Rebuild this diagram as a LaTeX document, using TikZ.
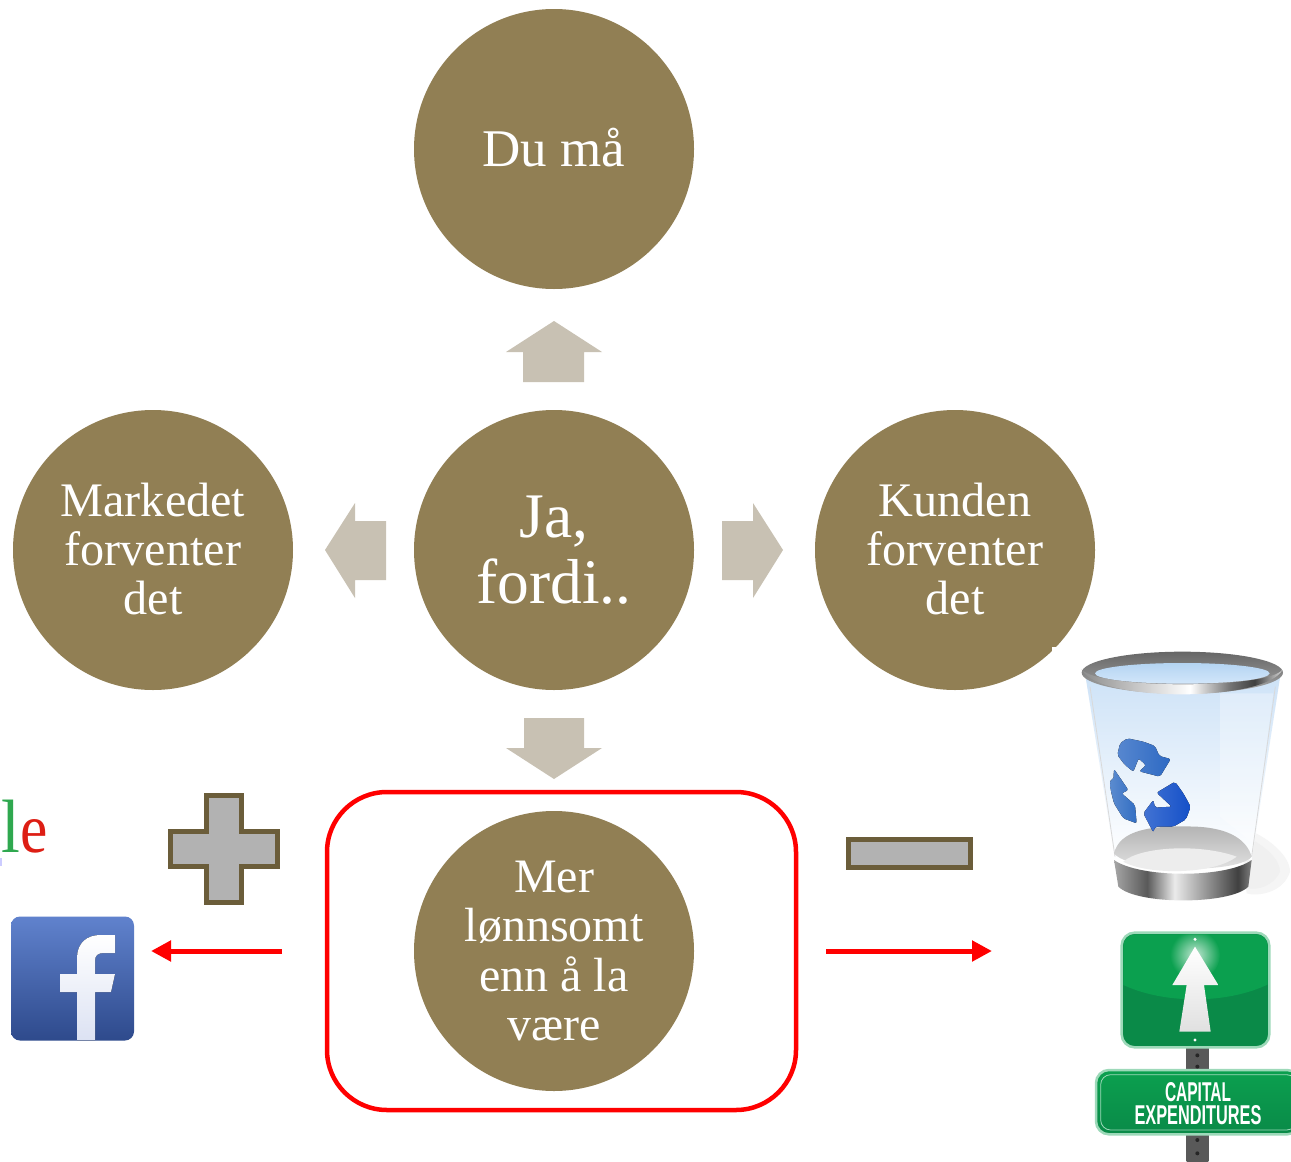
\documentclass[tikz,border=0pt]{standalone}
\usepackage{fontspec}
\setmainfont{Liberation Serif}
\newfontfamily\signfont{Liberation Sans}
\usetikzlibrary{arrows.meta}
\definecolor{olive}{HTML}{917F54}
\definecolor{blockarrow}{HTML}{C8C1B3}
\definecolor{symedge}{HTML}{6B5D3A}
\definecolor{symfill}{HTML}{B2B2B2}
\definecolor{signgreen}{HTML}{0BA04F}
\definecolor{signdark}{HTML}{0A8A48}
\definecolor{fbtop}{HTML}{6082CD}
\definecolor{fbbot}{HTML}{2E4A8C}
\definecolor{fbf}{HTML}{DCE2F3}
\definecolor{recA}{HTML}{2D69C3}
\definecolor{recB}{HTML}{326EC3}
\definecolor{recC}{HTML}{1450C8}
\definecolor{binA}{HTML}{CDE2F7}
\definecolor{rimA}{HTML}{B4D4F2}
\definecolor{rimB}{HTML}{D2E6FA}
\pgfdeclarehorizontalshading{rimband}{100bp}{color(0bp)=(black!45);color(25bp)=(black!45);color(40bp)=(black!20);color(52bp)=(white);color(62bp)=(black!55);color(68bp)=(black!75);color(75bp)=(black!15);color(100bp)=(black!15)}
\pgfdeclarehorizontalshading{baseband}{100bp}{color(0bp)=(black!35);color(25bp)=(black!35);color(37bp)=(black!65);color(47bp)=(black!8);color(58bp)=(black!40);color(70bp)=(black!75);color(75bp)=(black!50);color(100bp)=(black!50)}
\newcommand{\liftline}[1]{\raisebox{2.5pt}{#1}}
\tikzset{
  x=1pt,y=-1pt,
  bubble/.style={circle,fill=olive,minimum size=280pt,inner sep=0pt,align=center,text=white},
  bubbletext/.style={font=\fontsize{48.2}{49.4}\selectfont},
  blockar/.style={fill=blockarrow},
  symbol/.style={draw=symedge,line width=5pt,fill=symfill,miter limit=10},
  redarrow/.style={draw=red,line width=5pt,-{Triangle[length=20pt,width=20pt]}},
  recycle/.style={left color=#1!80!white,right color=#1},
  signplate/.style={rounded corners=13pt,draw=white!60!signgreen,line width=2.5pt,fill=signdark},
  captext/.style={inner sep=0pt,text=white,font=\signfont\bfseries\fontsize{16}{16}\selectfont},
}
\begin{document}
\begin{tikzpicture}
\path[use as bounding box,fill=white] (0,0) rectangle (1291,1162);
\clip (0,0) rectangle (1291,1162);

% bubbles
\node[bubble,font=\fontsize{53}{54}\selectfont] (top) at (554,149) {\raisebox{4pt}{Du må}};
\node[bubble,bubbletext] (left) at (153,550) {\liftline{Markedet}\\\liftline{forventer}\\\liftline{det}};
\node[bubble,font=\fontsize{63.5}{66}\selectfont] (mid) at (554,550) {Ja,\\fordi..};
\node[bubble,bubbletext] (right) at (955,550) {\liftline{Kunden}\\\liftline{forventer}\\\liftline{det}};
\node[bubble,font=\fontsize{48}{49.6}\selectfont] (low) at (554,951) {Mer\\lønnsomt\\enn å la\\være};

% block arrows
\fill[blockar] (554,321)--(602,352)--(584,352)--(584,382)--(523,382)--(523,352)--(506,352)--cycle;
\fill[blockar] (325,550)--(355,503)--(355,521)--(386,521)--(386,580)--(355,580)--(355,598)--cycle;
\fill[blockar] (783,550)--(753,503)--(753,521)--(722,521)--(722,580)--(753,580)--(753,598)--cycle;
\fill[blockar] (554,779)--(602,748)--(584,748)--(584,718)--(524,718)--(524,748)--(506,748)--cycle;

% red frame
\node[draw=red,line width=4.5pt,rounded corners=60pt,minimum width=469pt,minimum height=318pt,inner sep=0pt] (frame) at (561.5,951) {};

% plus and minus
\draw[symbol] (206.5,795.5)--(241.5,795.5)--(241.5,831.5)--(277.5,831.5)--(277.5,866.5)--(241.5,866.5)--(241.5,902.5)--(206.5,902.5)--(206.5,866.5)--(170,866.5)--(170,831.5)--(206.5,831.5)--cycle;
\node[draw=symedge,line width=5pt,fill=symfill,minimum width=122pt,minimum height=28pt,inner sep=0pt] (minus) at (909,853.5) {};

% google fragment
\node[anchor=base west,inner sep=0pt,font=\fontsize{70}{70}\selectfont] (google) at (1.5,852) {\scalebox{.88}[1]{\textcolor[HTML]{2FA84F}{\scalebox{1.1}[1.08]{l}}\textcolor[HTML]{DD1E14}{e}}};
\fill[blue!20!white] (0,858) rectangle (1.5,866);

% facebook
\node[rounded corners=9pt,inner sep=0pt,minimum width=123pt,minimum height=124pt,top color=fbtop,bottom color=fbbot] (fb) at (72.5,978.5) {};
\fill[top color=white,bottom color=fbf]
  (77,1040)--(77,992)--(60,992)--(60,974)--(77,974)--(77,958)
  .. controls (77,943) and (87,935) .. (100,935)--(115,935)--(115,953)--(104,953)
  .. controls (98,953) and (95,955) .. (95,961)--(95,974)--(115,974)--(111,992)--(95,992)--(95,1040)--cycle;

% red arrows
\coordinate (fbend) at (151,951);
\coordinate (binend) at (992,951);
\coordinate (lstart) at (282,951);
\coordinate (rstart) at (826,951);
\draw[redarrow] (lstart)--(fbend);
\draw[redarrow] (rstart)--(binend);

% recycle bin (coordinates of a 3x crop)
\fill[white] (1052,647) rectangle (1110,700);
\begin{scope}[shift={(1040,630)},scale=1/3]
  % ground shadow
  \fill[black!4] (600,590) .. controls (690,620) and (750,680) .. (750,725) .. controls (730,790) and (650,800) .. (620,790)--cycle;
  \fill[black!6] (620,620) .. controls (680,650) and (720,690) .. (720,725) .. controls (700,770) and (650,780) .. (625,775)--cycle;
  % body
  \path[top color=binA,bottom color=white] (135,130)--(225,690)--(635,690)--(722,130)--cycle;
  \path[left color=white,right color=white,opacity=.3] (540,190) -- (700,190) -- (640,640) -- (540,560) -- cycle;
  \draw[black!15,line width=.8pt] (150,170)--(225,680);
  \draw[black!15,line width=.8pt] (706,170)--(635,680);
  % floor
  \path[top color=black!30,bottom color=black!10] (222,670) .. controls (240,600) and (330,585) .. (470,590) .. controls (570,595) and (620,630) .. (635,680) .. controls (600,730) and (270,730) .. (222,670) -- cycle;
  \fill[black!7] (250,695) .. controls (300,650) and (480,640) .. (590,680) .. controls (520,735) and (320,735) .. (250,695) -- cycle;
  % base
  \path[shading=baseband] (222,690) .. controls (300,745) and (560,745) .. (635,690)--(625,770) .. controls (570,825) and (290,825) .. (235,770)--cycle;
  % recycle arrows
  \fill[recycle=recA,rounded corners=2pt] (232,375)--(240,340)--(262,325)--(310,335)--(345,348)--(358,378)--(392,387)--(360,440)--(298,424)--(318,406)--(296,385)--(280,425)--(255,405)--cycle;
  \fill[recycle=recB,rounded corners=2pt] (222,417)--(265,480)--(245,490)--(285,525)--(290,580)--(250,565)--(222,520)--(212,480)--(210,450)--(220,450)--cycle;
  \fill[recycle=recC,rounded corners=2pt] (350,488)--(405,455)--(430,490)--(452,530)--(438,568)--(400,590)--(345,590)--(340,607)--(310,550)--(340,510)--(345,533)--(395,530)--cycle;
  % rim
  \path[top color=black!60,bottom color=black!35] (427,128) ellipse [x radius=302,y radius=63];
  \path[shading=rimband] (125,118) .. controls (170,218) and (680,218) .. (728,118) .. controls (690,178) and (170,178) .. cycle;
  \path[top color=rimA,bottom color=rimB] (427,130) ellipse [x radius=262,y radius=31];
\end{scope}

% sign (coordinates of a 3x crop)
\begin{scope}[shift={(1080,920)},scale=1/3]
  \path[left color=black!65,middle color=black!15,right color=black!65] (320,380) rectangle (385,455);
  \path[left color=black!65,middle color=black!15,right color=black!65] (320,640) rectangle (385,726);
  \fill[black!85] (352,406) circle (6) (352,440) circle (6) (352,660) circle (6) (352,700) circle (6);
  \path[signplate] (125,38) rectangle (568,382);
  \begin{scope}
    \clip[rounded corners=12pt] (130,43) rectangle (563,377);
    \fill[signgreen] (345,60) ellipse [x radius=330,y radius=178];
    \path[inner color=white!75!signgreen,outer color=signgreen] (345,105) circle (75);
  \end{scope}
  \path[top color=white,bottom color=black!12] (345,80)--(415,195)--(372,195)--(392,335)--(298,335)--(320,195)--(277,195)--cycle;
  \fill[white] (345,58) circle (5) (345,360) circle (5);
  \path[signplate,top color=signgreen,bottom color=signdark] (48,450) rectangle (660,643);
  \path[rounded corners=10pt,draw=white!60!signgreen,line width=.8pt] (62,464) rectangle (650,630);
\end{scope}
\node[captext] (capital) at (1198,1092) {\resizebox{66pt}{19pt}{CAPITAL}};
\node[captext] (capex) at (1198,1115) {\resizebox{127pt}{19pt}{EXPENDITURES}};
\end{tikzpicture}
\end{document}
